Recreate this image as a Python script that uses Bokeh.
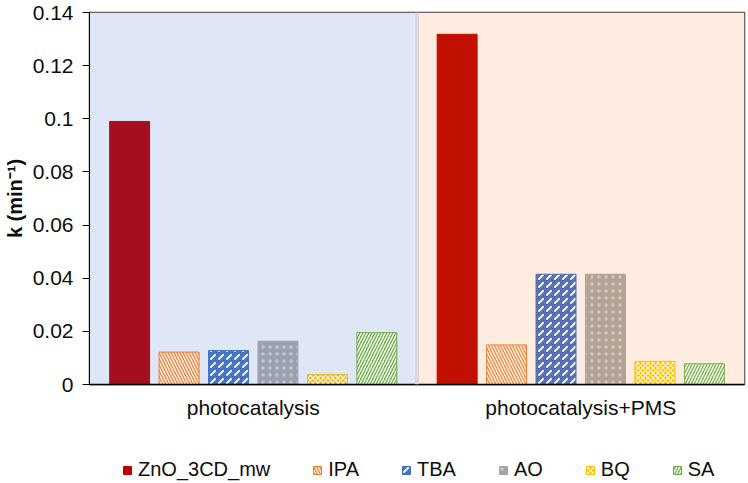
from bokeh.plotting import figure
from bokeh.layouts import column
from bokeh.models import (FactorRange, Range1d, FixedTicker, Legend, LegendItem,
                          ColumnDataSource, Span)
from bokeh.transform import dodge
from bokeh.embed import file_html
from bokeh.resources import INLINE

# ---- data ----
groups = ["photocatalysis", "photocatalysis+PMS"]
series = ["ZnO_3CD_mw", "IPA", "TBA", "AO", "BQ", "SA"]
zno = [0.0990, 0.1318]
ipa = [0.0122, 0.0149]
tba = [0.0128, 0.0415]
ao = [0.0163, 0.0415]
bq = [0.0038, 0.0087]
sa = [0.0195, 0.0078]
y_ticks = [0, 0.02, 0.04, 0.06, 0.08, 0.1, 0.12, 0.14]
y_tick_labels = ["0", "0.02", "0.04", "0.06", "0.08", "0.1", "0.12", "0.14"]

values = dict(zip(series, [zno, ipa, tba, ao, bq, sa]))

# ---- styles ----
colors = {
    "ZnO_3CD_mw": ["#a50e1e", "#c10f00"],
    "IPA": ["#ed7d31", "#f48231"],
    "TBA": ["#4472c4", "#5570b2"],
    "AO": ["#9ca1b0", "#b3a394"],
    "BQ": ["#e9b92a", "#ffc000"],
    "SA": ["#6fac4c", "#7db24f"],
}
legend_colors = {
    "ZnO_3CD_mw": "#c00000", "IPA": "#f08030", "TBA": "#4472c4",
    "AO": "#a5a5a5", "BQ": "#ffc000", "SA": "#70ad47",
}
hatches = {
    "ZnO_3CD_mw": None,
    "IPA": "left_diagonal_line",
    "TBA": "right_diagonal_dash",
    "AO": "dot",
    "BQ": "diagonal_cross",
    "SA": "right_diagonal_line",
}
hatch_scales = {"IPA": 6, "TBA": 8, "AO": 7, "BQ": 5, "SA": 6}
hatch_weights = {"IPA": 1.5, "TBA": 2.0, "AO": 0.3, "BQ": 1.2, "SA": 1.5}
hatch_alphas = {"IPA": 0.9, "TBA": 0.9, "AO": 0.4, "BQ": 0.9, "SA": 0.9}
bar_step = 0.151
bar_width = 0.122
FONT = "Liberation Sans"
TXT = "#0d0d0d"


def hatch_kw(s):
    if not hatches[s]:
        return {}
    return dict(hatch_pattern=hatches[s], hatch_color="white", hatch_alpha=hatch_alphas[s],
                hatch_scale=hatch_scales[s], hatch_weight=hatch_weights[s])


p = figure(x_range=FactorRange(*groups), y_range=Range1d(0, 0.14),
           width=748, height=445,
           output_backend="svg", toolbar_location=None,
           min_border_left=88, min_border_right=4, min_border_top=12,
           min_border_bottom=61)
p.background_fill_color = "white"
p.border_fill_color = "white"
p.outline_line_color = "#404040"
p.outline_line_width = 1.5
p.xgrid.visible = False
p.ygrid.visible = False

# background bands per group
p.quad(left=[i for i in range(len(groups))], right=[i + 1 for i in range(len(groups))],
       bottom=0, top=0.14, fill_color=["#dfe7f6", "#fdecdf"], line_color=None)
for i in range(1, len(groups)):
    p.add_layout(Span(location=i, dimension="height", line_color="#ddd8dc",
                      line_width=4))

n = len(series)
sources = {}
for k, s in enumerate(series):
    src = ColumnDataSource(dict(group=groups, value=values[s], color=colors[s]))
    sources[s] = src
    off = (k - (n - 1) / 2) * bar_step
    p.vbar(x=dodge("group", off, range=p.x_range), top="value", width=bar_width,
           source=src, fill_color="color", line_color="color", line_width=1,
           **hatch_kw(s))

# y axis
ya = p.yaxis[0]
ya.ticker = FixedTicker(ticks=y_ticks)
ya.major_label_overrides = dict(zip(y_ticks, y_tick_labels))
ya.major_tick_out = 7
ya.major_tick_in = 0
ya.minor_tick_out = 0
ya.minor_tick_in = 0
ya.axis_line_color = "black"
ya.major_tick_line_color = "black"
ya.major_label_text_font = FONT
ya.major_label_text_font_size = "21px"
ya.major_label_text_color = TXT
ya.major_label_standoff = 9
ya.axis_label = "k (min\u207b\u00b9)"
ya.axis_label_text_font = FONT
ya.axis_label_text_font_style = "bold"
ya.axis_label_text_font_size = "20px"
ya.axis_label_text_color = TXT
ya.axis_label_standoff = 4

# x axis
xa = p.xaxis[0]
xa.major_tick_out = 0
xa.major_tick_in = 0
xa.axis_line_color = "black"
xa.axis_line_width = 1.5
xa.major_label_text_font = FONT
xa.major_label_text_font_size = "21px"
xa.major_label_text_color = TXT
xa.major_label_standoff = 11

# ---- legend strip (its renderers reuse the data, drawn outside the strip's view) ----
pl = figure(width=748, height=38, x_range=FactorRange(*groups), y_range=Range1d(1, 2),
            output_backend="svg", toolbar_location=None,
            min_border_left=0, min_border_right=0, min_border_top=0,
            min_border_bottom=0, x_axis_type=None, y_axis_type=None)
pl.outline_line_color = None
pl.xgrid.visible = False
pl.ygrid.visible = False
pl.border_fill_color = "white"
pl.background_fill_color = "white"
items = []
for s in series:
    r = pl.vbar(x="group", top="value", width=bar_width, source=sources[s],
                fill_color=legend_colors[s], line_color=legend_colors[s], **hatch_kw(s))
    items.append(LegendItem(label=s, renderers=[r]))
legend = Legend(items=items, orientation="horizontal", location=(33, 2),
                glyph_width=10, glyph_height=10, label_standoff=6, spacing=42,
                padding=0, margin=0, label_text_font=FONT,
                label_text_font_size="20px", label_text_color=TXT,
                background_fill_alpha=0, border_line_alpha=0)
pl.add_layout(legend, "center")

layout = column(p, pl, spacing=0)
open("out.html", "w").write(file_html(layout, INLINE))
